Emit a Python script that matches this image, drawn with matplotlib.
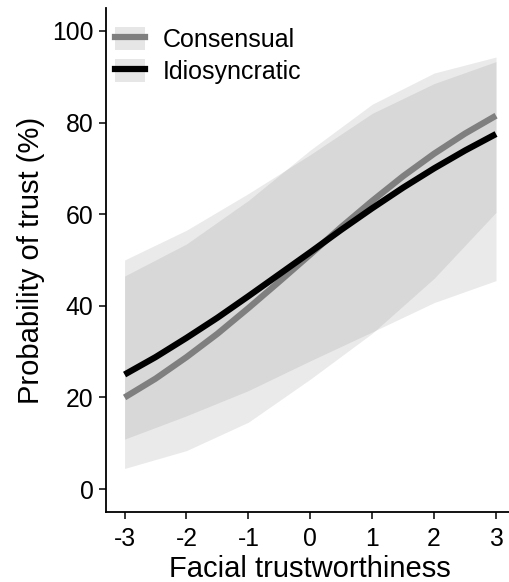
import matplotlib
matplotlib.use("Agg")
import matplotlib.pyplot as plt
from matplotlib.patches import Patch
from matplotlib.lines import Line2D
from matplotlib.legend_handler import HandlerTuple

plt.rcParams['font.family'] = ['Liberation Sans', 'DejaVu Sans']
plt.rcParams['axes.unicode_minus'] = False

# Data
x_line = [-3, -2.5, -2, -1.5, -1, -0.5, 0, 0.5, 1, 1.5, 2, 2.5, 3]
cons_mean = [20.0, 24.1, 28.8, 33.9, 39.5, 45.3, 51.2, 57.2, 62.9, 68.3, 73.2, 77.6, 81.5]
idio_mean = [25.0, 28.8, 33.0, 37.4, 42.1, 46.9, 51.7, 56.6, 61.3, 65.8, 70.0, 73.9, 77.5]

x_band = [-3, -2, -1, 0, 1, 2, 3]
cons_lower = [4.5, 8.4, 14.6, 24.0, 34.0, 46.0, 60.4]
cons_upper = [46.5, 53.5, 63.0, 74.0, 84.0, 90.8, 94.3]
idio_lower = [10.9, 16.0, 21.5, 28.0, 34.3, 40.7, 45.5]
idio_upper = [50.0, 56.5, 64.5, 73.0, 82.0, 88.5, 93.3]

x_ticks = [-3, -2, -1, 0, 1, 2, 3]
y_ticks = [0, 20, 40, 60, 80, 100]

fig = plt.figure(figsize=(5.1, 5.82), dpi=100)
ax = fig.add_axes([106/510, 70/582, (514.6-106)/510, (512-8)/582])

band_c = (0.36, 0.36, 0.36)
ax.fill_between(x_band, cons_lower, cons_upper, color=band_c, alpha=0.125, lw=0)
ax.fill_between(x_band, idio_lower, idio_upper, color=band_c, alpha=0.125, lw=0)
ax.plot(x_line, cons_mean, color='#7f7f7f', lw=4.5, solid_capstyle='butt')
ax.plot(x_line, idio_mean, color='black', lw=4.5, solid_capstyle='butt')

ax.set_xlim(-3.3, 3.3)
ax.set_ylim(-5, 105)
ax.set_xticks(x_ticks)
ax.set_yticks(y_ticks)
ax.set_xticklabels([str(v) for v in x_ticks])
ax.set_yticklabels([str(v) for v in y_ticks])
for s in ['top', 'right']:
    ax.spines[s].set_visible(False)
for s in ['left', 'bottom']:
    ax.spines[s].set_linewidth(1.3)
ax.tick_params(axis='both', length=5, width=1.1, labelsize=17.8, color='black')
ax.tick_params(axis='x', pad=6)
ax.tick_params(axis='y', pad=4)
ax.set_xlabel('Facial trustworthiness', fontsize=21, labelpad=2.5)
ax.set_ylabel('Probability of trust (%)', fontsize=21, labelpad=5)

key_bg = '#e6e6e6'
handles = [
    (Patch(fc=key_bg, ec='none'), Line2D([], [], color='#7f7f7f', lw=4.5)),
    (Patch(fc=key_bg, ec='none'), Line2D([], [], color='black', lw=4.5)),
]
leg = ax.legend(handles, ['Consensual', 'Idiosyncratic'],
                handler_map={tuple: HandlerTuple(ndivide=1, pad=0)},
                loc='upper left', bbox_to_anchor=(115/510, 1-27/582),
                bbox_transform=fig.transFigure, frameon=False,
                fontsize=18, handlelength=1.2, handleheight=1.05,
                labelspacing=0.28, handletextpad=0.7, borderpad=0, borderaxespad=0)

fig.savefig('out.png', dpi=100)
